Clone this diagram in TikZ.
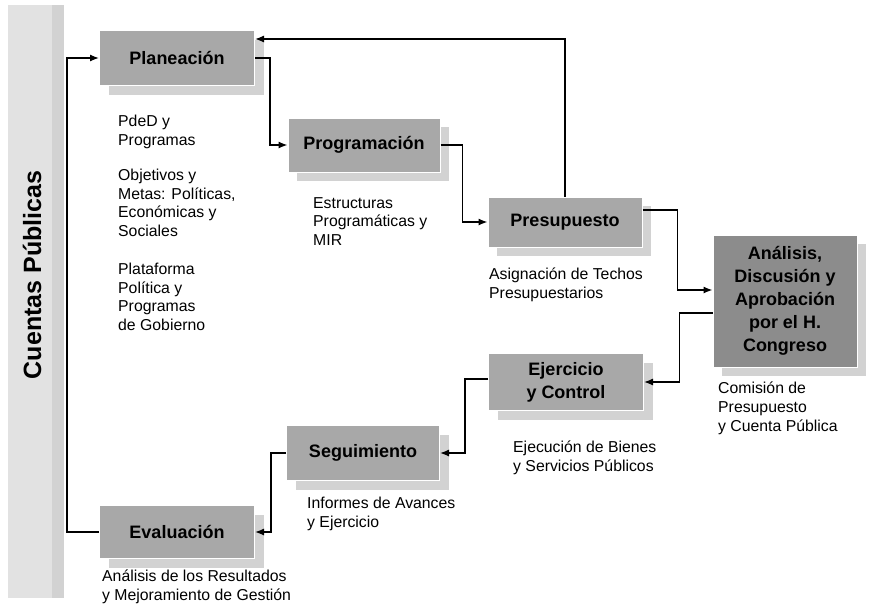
\documentclass[tikz,border=0pt]{standalone}
\usepackage{fontspec}
\setmainfont{Liberation Sans}
\usetikzlibrary{shadows,arrows.meta}
\definecolor{boxgray}{HTML}{A8A8A8}
\definecolor{darkgray}{HTML}{8C8C8C}
\definecolor{shadegray}{HTML}{D2D2D2}
\definecolor{bandgray}{HTML}{E2E2E2}

\tikzset{
  stage/.style={rectangle, draw=white, line width=1pt, fill=boxgray,
    minimum width=155pt, minimum height=55pt, align=center,
    font=\fontsize{18}{23}\selectfont\bfseries,
    drop shadow={shadow xshift=9pt, shadow yshift=-9pt, fill=shadegray, opacity=1}},
  note/.style={anchor=north west, inner sep=0pt, align=left,
    font=\fontsize{15.8}{18.6}\selectfont},
  flow/.style={-{Latex[length=9pt,width=7pt]}, line width=1.3pt}
}

\begin{document}
\begin{tikzpicture}[x=1pt, y=-1pt]
            \useasboundingbox (0,0) rectangle (881,603);
            \fill[bandgray] (8,5) rectangle (52,598);
            \fill[shadegray] (52,5) rectangle (64,598);
            \node[rotate=90, font=\fontsize{25}{28}\selectfont\bfseries] (cp) at (32,275) {Cuentas Públicas};

            \node[stage] (plan) at (177,58) {Planeación};
            \node[stage, minimum width=152pt, minimum height=54pt] (prog) at (364,145) {Programación};
            \node[stage, minimum width=154pt, minimum height=50pt] (pres) at (565,222) {Presupuesto};
            \node[stage, fill=darkgray, minimum width=144pt, minimum height=132pt] (anal) at (785,301)
              {Análisis,\\Discusión y\\Aprobación\\por el H.\\Congreso};
            \node[stage, minimum height=57pt] (ejer) at (566,382) {Ejercicio\\y Control};
            \node[stage, minimum width=153pt] (segu) at (363,453) {Seguimiento};
            \node[stage, minimum height=53pt] (eval) at (177,532) {Evaluación};

            \node[note] (n1) at (118,115) {PdeD y\\Programas};
            \node[note] (n2) at (118,169) {Objetivos y\\Metas: Políticas,\\Económicas y\\Sociales};
            \node[note] (n3) at (118,263) {Plataforma\\Política y\\Programas\\de Gobierno};
            \node[note] (n4) at (313,197) {Estructuras\\Programáticas y\\MIR};
            \node[note] (n5) at (489,268) {Asignación de Techos\\Presupuestarios};
            \node[note] (n6) at (718,382) {Comisión de\\Presupuesto\\y Cuenta Pública};
            \node[note] (n7) at (513,441) {Ejecución de Bienes\\y Servicios Públicos};
            \node[note] (n8) at (307,497) {Informes de Avances\\y Ejercicio};
            \node[note] (n9) at (102,570) {Análisis de los Resultados\\y Mejoramiento de Gestión};

            \draw[flow] (eval.west) -- ++(-32,0) |- (plan.west);
            \draw[flow] (plan.east) -- ++(15,0) |- (prog.west);
            \draw[flow] (prog.east) -- ++(22,0) |- (pres.west);
            \draw[flow] (pres.north) |- ([yshift=-9pt]plan.north east);
            \draw[flow] ([yshift=12pt]pres.east) -- ++(35,0) |- ([yshift=11pt]anal.west);
            \draw[flow] ([yshift=-12pt]anal.west) -- ++(-33,0) |- (ejer.east);
            \draw[flow] ([yshift=3pt]ejer.west) -- ++(-23,0) |- (segu.east);
            \draw[flow] (segu.west) -- ++(-15,0) |- (eval.east);
        \end{tikzpicture}
\end{document}
